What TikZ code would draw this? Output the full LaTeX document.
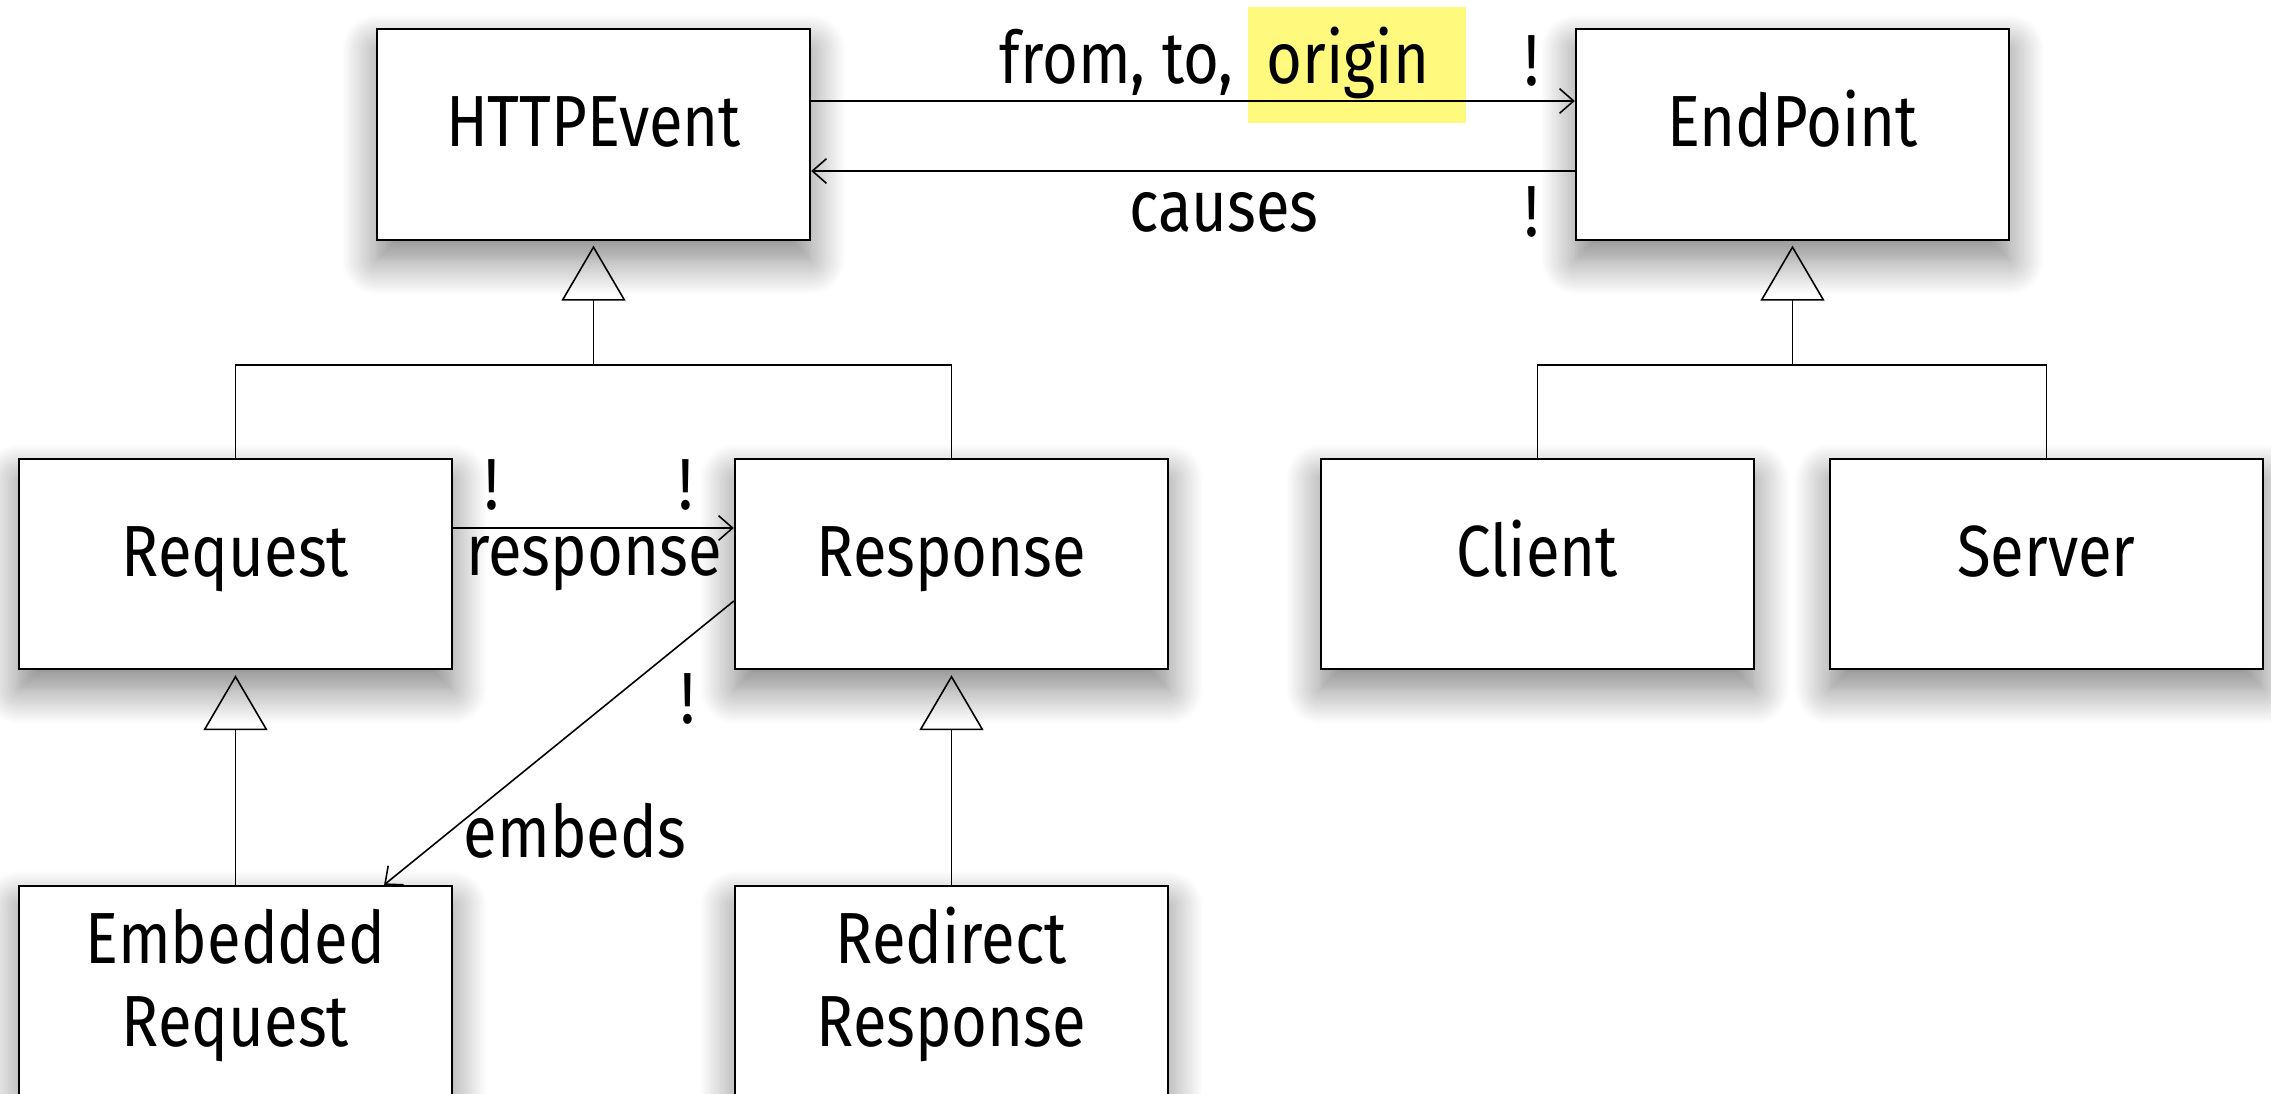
\documentclass[tikz,border=0pt]{standalone}
\usepackage{fontspec}
\setmainfont{Fira Sans}[FakeStretch=0.85]
\usetikzlibrary{arrows.meta,shadows.blur}
\definecolor{hl}{RGB}{255,250,125}
\begin{document}
\begin{tikzpicture}[x=0.01cm,y=-0.01cm,
  every node/.style={font=\fontsize{20.6}{23.6}\selectfont},
  box/.style={draw, line width=0.6pt, fill=white, minimum width=4.33cm, minimum height=2.1cm, inner sep=0pt,
    blur shadow={shadow xshift=0pt, shadow yshift=-0.2cm, shadow blur radius=0.35cm, shadow blur steps=16, shadow opacity=50}},
  one/.style={text height=0.5cm, text depth=0.26cm},
  two/.style={align=center, text height=1.35cm, text depth=0.25cm},
  lbl/.style={anchor=base, inner sep=0pt},
  conn/.style={line width=0.45pt},
  arr/.style={conn, -{Straight Barb[length=4pt,width=7pt]}},
  gen/.style={conn, -{Triangle[open, length=0.55cm, width=0.64cm]}, shorten >=0.05cm}
]
\useasboundingbox (0,0) rectangle (2271,1094);
\fill[hl] (1248,7) rectangle (1466,123);

\node[box,one] (http) at (593.5,134.5) {HTTPEvent};
\node[box,one] (ep) at (1792.5,134.5) {EndPoint};
\node[box,one] (req) at (235.5,564) {Request};
\node[box,one] (resp) at (951.5,564) {Response};
\node[box,one] (client) at (1537.5,564) {Client};
\node[box,one] (server) at (2046.5,564) {Server};
\node[box,two] (emb) at (235.5,991) {Embedded\\Request};
\node[box,two] (redir) at (951.5,991) {Redirect\\Response};

% associations
\draw[arr] ([yshift=0.335cm]http.east) -- ([yshift=0.335cm]ep.west);
\draw[arr] ([yshift=-0.365cm]ep.west) -- ([yshift=-0.365cm]http.east);
\draw[arr] ([yshift=0.36cm]req.east) -- ([yshift=0.36cm]resp.west);
\draw[arr] ([yshift=-0.37cm]resp.west) -- ([xshift=1.485cm]emb.north);

% generalizations
\coordinate (hj) at (593.5,365);
\coordinate (ej) at (1792.5,365);
\draw[conn] (req.north) |- (hj) -| (resp.north);
\draw[gen] (hj) -- (http.south);
\draw[conn] (client.north) |- (ej) -| (server.north);
\draw[gen] (ej) -- (ep.south);
\draw[gen] (emb.north) -- (req.south);
\draw[gen] (redir.north) -- (resp.south);

% labels
\node[lbl, anchor=base west] (fromto) at (999,84) {from, to,\hspace{0.17cm} origin};
\node[lbl] (b1) at (1532,86) {!};
\node[lbl] (causes) at (1224,232) {causes};
\node[lbl] (b2) at (1532,237) {!};
\node[lbl] (b3) at (492,510) {!};
\node[lbl] (b4) at (686,510) {!};
\node[lbl] (response) at (594,576) {response};
\node[lbl] (b5) at (688,724) {!};
\node[lbl] (embeds) at (575,857) {embeds};
\end{tikzpicture}
\end{document}
